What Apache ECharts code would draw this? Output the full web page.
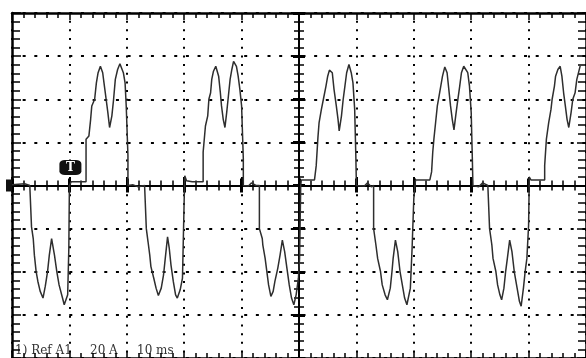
<!DOCTYPE html>
<html>
<head>
<meta charset="utf-8">
<script src="https://cdn.jsdelivr.net/npm/echarts@6.0.0/dist/echarts.min.js"></script>
<style>
html, body { margin: 0; padding: 0; background: #fff; }
#scope { width: 586px; height: 358px; }
</style>
</head>
<body>
<div id="scope"></div>
<script>
// scope settings: 20 A / div, 10 ms / div, time relative to screen centre
var msPerDiv = 10;
var ampsPerDiv = 20;
var tMin = -50, tMax = 50;
var aMin = -80, aMax = 80;
var trigTime = -40;
var captionParts = ['1) Ref A1', '20 A', '10 ms'];

var lead = [[-50, 0.3], [-47.8, 0.8], [-46.9, 0]];
var neg1 = [[-46.6, 0], [-46.6, -19.2], [-46.3, -24.6], [-46.1, -32.3], [-45.8, -39.8], [-45.5, -44.4], [-45.1, -49.0], [-44.6, -52.2], [-44.2, -46.7], [-43.8, -39.8], [-43.5, -32.3], [-43.1, -24.6], [-42.6, -32.3], [-42.2, -39.8], [-41.8, -46.1], [-41.2, -52.2], [-40.9, -55.3], [-40.3, -50.7], [-40.1, -29.2], [-40.0, 0]];
var gap1 = [[-39.7, 1.7], [-37.5, 1.7]];
var pos1 = [[-37.1, 1.7], [-37.1, 21.5], [-36.6, 23.0], [-36.3, 30.7], [-36.1, 36.9], [-35.6, 40.0], [-35.3, 47.6], [-35.0, 52.3], [-34.6, 55.3], [-34.2, 52.3], [-33.9, 46.1], [-33.6, 40.0], [-33.3, 33.8], [-33.0, 26.9], [-32.6, 32.3], [-32.3, 40.0], [-32.0, 49.2], [-31.6, 53.8], [-31.2, 56.5], [-30.6, 52.3], [-30.3, 47.6], [-30.1, 36.9], [-29.8, 13.8], [-29.8, 0]];
var gap2 = [[-28.9, 0.3], [-28.0, -0.6], [-26.9, 0]];
var neg2 = [[-26.6, 0], [-26.6, -20.0], [-26.3, -26.1], [-26.0, -32.3], [-25.8, -37.6], [-25.3, -43.0], [-24.9, -47.6], [-24.5, -51.0], [-24.0, -47.6], [-23.6, -41.5], [-23.3, -33.8], [-22.9, -23.8], [-22.6, -29.2], [-22.3, -36.9], [-21.9, -44.5], [-21.5, -50.7], [-21.2, -52.2], [-20.7, -48.4], [-20.3, -43.0], [-20.0, -6.1], [-19.9, 4.5], [-19.6, 2.2]];
var gap3 = [[-18.6, 1.7], [-16.7, 1.7]];
var pos2 = [[-16.7, 15.5], [-16.3, 27.6], [-15.9, 32.3], [-15.7, 40.0], [-15.4, 43.0], [-15.2, 49.2], [-14.9, 53.0], [-14.5, 55.3], [-14.0, 50.7], [-13.7, 43.0], [-13.5, 36.9], [-13.2, 30.7], [-12.9, 26.9], [-12.6, 33.8], [-12.3, 41.5], [-12.0, 49.2], [-11.7, 53.8], [-11.4, 57.6], [-10.9, 55.3], [-10.6, 50.7], [-10.3, 44.6], [-10.0, 36.9], [-9.7, 12.3], [-9.7, 0]];
var gap4 = [[-8.8, -0.2], [-8.3, 1.2], [-7.5, 0], [-6.9, 0]];
var neg3 = [[-6.9, -20.0], [-6.4, -24.6], [-6.3, -27.6], [-5.9, -33.8], [-5.6, -39.9], [-5.3, -46.1], [-4.9, -51.4], [-4.5, -49.1], [-4.2, -44.5], [-3.7, -38.4], [-3.3, -32.3], [-2.9, -25.3], [-2.5, -30.7], [-2.1, -38.4], [-1.7, -46.1], [-1.3, -52.2], [-0.9, -55.3], [-0.5, -50.7], [-0.1, -43.0], [0.1, -33.8], [0.3, 0]];
var gap5 = [[0.4, 2.6], [2.7, 2.6]];
var pos3 = [[3.0, 2.6], [3.0, 9.2], [3.3, 22.3], [3.5, 29.2], [3.9, 35.3], [4.3, 40.7], [4.7, 46.1], [5.0, 50.7], [5.3, 53.5], [5.8, 52.3], [6.1, 44.6], [6.5, 36.9], [6.8, 30.7], [7.0, 25.3], [7.4, 32.3], [7.7, 40.0], [8.0, 46.1], [8.3, 52.3], [8.7, 56.1], [9.1, 52.3], [9.4, 47.6], [9.7, 35.3], [9.9, 13.8], [10.0, 0]];
var gap6 = [[11.4, -0.2], [11.9, 1.2], [12.6, -0.6], [13.0, 0]];
var neg4 = [[13.0, -20.0], [13.4, -27.6], [13.7, -33.8], [14.2, -39.9], [14.5, -46.1], [15.0, -50.7], [15.4, -53.0], [15.9, -47.6], [16.2, -39.9], [16.4, -33.8], [16.8, -25.3], [17.2, -30.7], [17.6, -39.9], [18.0, -46.1], [18.4, -52.2], [18.8, -55.3], [19.4, -47.6], [19.7, -29.2], [20.0, -6.1], [20.2, 0]];
var gap7 = [[20.3, 2.6], [22.8, 2.6]];
var pos4 = [[23.1, 2.6], [23.1, 6.3], [23.3, 15.4], [23.5, 21.5], [23.8, 29.2], [24.1, 36.9], [24.4, 41.5], [24.7, 46.1], [25.0, 50.7], [25.4, 55.0], [25.8, 52.3], [26.1, 44.6], [26.4, 36.9], [26.7, 30.7], [27.0, 25.8], [27.3, 32.3], [27.6, 38.4], [28.0, 46.1], [28.3, 52.3], [28.7, 55.3], [29.0, 56.1], [29.4, 52.3], [29.7, 46.1], [30.0, 33.8], [30.2, 12.3], [30.3, 0]];
var gap8 = [[31.3, -0.6], [32.0, 1.2], [32.9, 0], [33.2, 0]];
var neg5 = [[33.2, -20.0], [33.6, -27.6], [33.8, -33.8], [34.3, -39.9], [34.6, -46.1], [35.0, -50.7], [35.3, -53.0], [35.7, -47.6], [36.0, -39.9], [36.3, -33.8], [36.7, -25.3], [37.1, -30.7], [37.5, -39.9], [38.0, -47.6], [38.4, -53.7], [38.7, -56.0], [39.1, -47.6], [39.4, -39.9], [39.7, -33.8], [40.0, -18.4], [40.1, 0], [40.1, 4.0]];
var gap9 = [[40.4, 2.6], [42.8, 2.6]];
var pos5 = [[42.8, 9.2], [43.1, 21.5], [43.5, 29.2], [43.9, 35.3], [44.1, 40.0], [44.5, 46.1], [44.7, 50.7], [45.1, 53.8], [45.5, 55.3], [45.8, 50.7], [46.1, 43.0], [46.4, 36.9], [46.7, 30.7], [47.0, 26.9], [47.4, 33.8], [47.7, 40.0], [48.1, 43.0], [48.4, 49.2], [49.0, 55.6]];

var wave = [].concat(lead, neg1, gap1, pos1, gap2, neg2, gap3, pos2, gap4, neg3, gap5,
    pos3, gap6, neg4, gap7, pos4, gap8, neg5, gap9, pos5);

var ink = '#000';
var tickLine = { color: ink, width: 1.5 };

// one axis of the scope frame / centre cross
function scopeAxis(kind, pos, opts) {
    var ax = {
        type: 'value',
        position: pos,
        min: kind == 'x' ? tMin : aMin,
        max: kind == 'x' ? tMax : aMax,
        interval: kind == 'x' ? msPerDiv : ampsPerDiv,
        axisLine: { onZero: false, lineStyle: { color: ink, width: 2.5 } },
        axisTick: { inside: true, length: opts.major, lineStyle: { color: ink, width: opts.majorWidth || 1.5 } },
        minorTick: { show: true, splitNumber: 5, length: opts.minor, lineStyle: tickLine },
        axisLabel: { show: false },
        splitLine: { show: false }
    };
    if (opts.center) {
        ax.axisLine.onZero = true;
        ax.axisLine.onZeroAxisIndex = 0;
        ax.axisLine.lineStyle.width = 2;
        ax.axisTick.inside = opts.inside;
    }
    if (opts.dots) {
        ax.splitLine = { show: true, lineStyle: { color: ink, width: 2, type: opts.dots, dashOffset: 1 } };
    }
    return ax;
}

var myChart = echarts.init(document.getElementById('scope'));

var option = {
    animation: false,
    backgroundColor: '#fff',
    grid: { left: 12, top: 13, right: -9, bottom: -2 },
    xAxis: [
        scopeAxis('x', 'bottom', { major: 7, minor: 5, dots: [2, 6.68] }),
        scopeAxis('x', 'top', { major: 7, minor: 5 }),
        scopeAxis('x', 'bottom', { major: 7, minor: 5, majorWidth: 3, center: true, inside: true }),
        scopeAxis('x', 'bottom', { major: 7, minor: 5, majorWidth: 3, center: true, inside: false })
    ],
    yAxis: [
        scopeAxis('y', 'left', { major: 9, minor: 8, dots: [3, 8.66] }),
        scopeAxis('y', 'right', { major: 9, minor: 8 }),
        scopeAxis('y', 'left', { major: 6, minor: 5, majorWidth: 3, center: true, inside: true }),
        scopeAxis('y', 'left', { major: 6, minor: 5, majorWidth: 3, center: true, inside: false })
    ],
    graphic: [
        { type: 'text', left: 15, top: 345, style: { text: captionParts[0], font: '12px "DejaVu Serif"', fill: '#333' } },
        { type: 'text', left: 90, top: 345, style: { text: captionParts[1], font: '12px "DejaVu Serif"', fill: '#333' } },
        { type: 'text', left: 137, top: 345, style: { text: captionParts[2], font: '12px "DejaVu Serif"', fill: '#333' } }
    ],
    series: [{
        type: 'line',
        xAxisIndex: 0,
        yAxisIndex: 0,
        data: wave,
        symbol: 'none',
        z: 5,
        lineStyle: { color: '#2e2e2e', width: 1.5 },
        markPoint: {
            silent: true,
            data: [
                {
                    // trigger marker
                    coord: [trigTime, 0],
                    symbol: 'roundRect',
                    symbolSize: [22, 15],
                    symbolOffset: [1, -18],
                    itemStyle: { color: '#111' },
                    label: { show: true, position: 'inside', formatter: 'T', color: '#fff', fontFamily: 'DejaVu Serif', fontWeight: 'bold', fontSize: 12 }
                },
                {
                    // channel ground marker
                    coord: [tMin, 0],
                    symbol: 'rect',
                    symbolSize: [6, 12],
                    symbolOffset: [-3, 0],
                    itemStyle: { color: '#111' },
                    label: { show: false }
                }
            ]
        }
    }]
};

myChart.setOption(option);
</script>
</body>
</html>
